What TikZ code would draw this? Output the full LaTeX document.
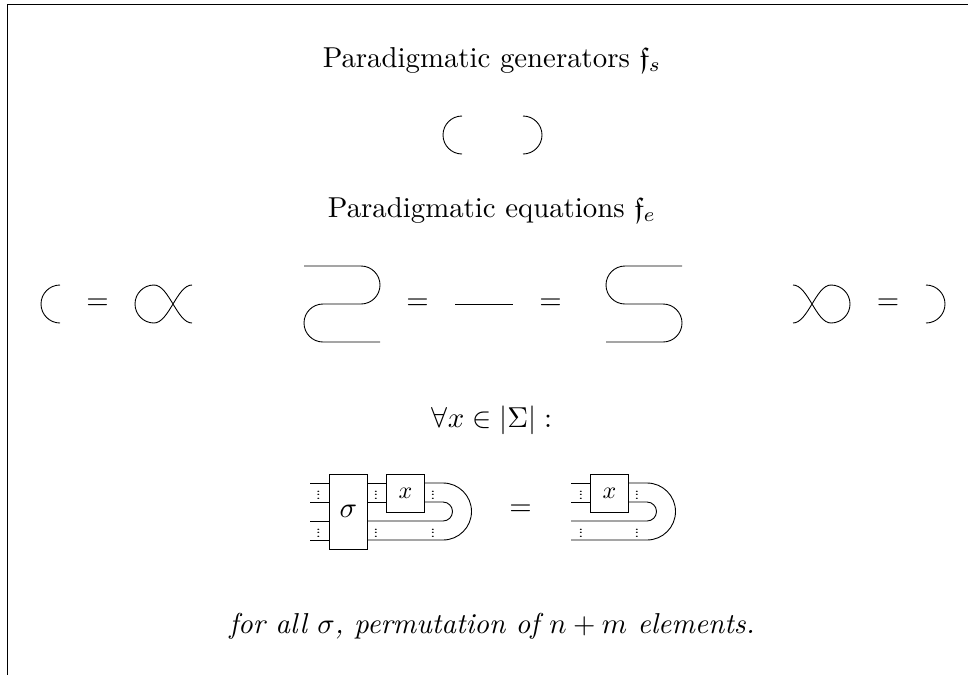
\documentclass[tikz,border=0pt]{standalone}
\usepackage{amsfonts}
\usepackage{graphicx}
\newcommand{\tripled}[1]{\scalebox{2.88}{#1}}
\newcommand{\boxletter}[1]{\scalebox{2.4}{#1}}
\newcommand{\smalldots}{\scalebox{1.3}[0.85]{\bfseries$\vdots$}}
\tikzset{
  wire/.style={line width=0.9pt,line cap=butt},
  labelbox/.style={draw,line width=0.9pt,inner sep=0pt,anchor=north west,minimum width=38pt},
  frameline/.style={line width=1pt},
  dotmark/.style={inner sep=0pt},
  bigtext/.style={inner sep=0pt,anchor=base},
  mathsym/.style={inner sep=0pt}
}
\begin{document}
\begin{tikzpicture}[x=1pt,y=-1pt]
\useasboundingbox (0,0) rectangle (968,675);
\coordinate (ftl) at (7,4.5); \coordinate (ftr) at (968,4.5); \coordinate (fbl) at (7,675);
\draw[frameline] (ftr) -- (ftl) -- (fbl);
\node[bigtext] (t1) at (492,67) {\tripled{Paradigmatic generators $\mathfrak{f}_s$}};
\node[bigtext] (t2) at (492,217) {\tripled{Paradigmatic equations $\mathfrak{f}_e$}};
\node[bigtext] (t3) at (492,427) {\tripled{$\forall x\in|\Sigma|:$}};
\node[bigtext] (t4) at (492,633) {\tripled{\itshape for all $\sigma$, permutation of $n+m$ elements.}};
% generators
\coordinate (g1a) at (462,116); \coordinate (g2a) at (523,116);
\draw[wire] (g1a) arc[start angle=-90,end angle=-270,radius=19];
\draw[wire] (g2a) arc[start angle=-90,end angle=90,radius=19];
% left equation
\coordinate (l1) at (60,285);
\draw[wire] (l1) arc[start angle=-90,end angle=-270,radius=19];
\node[mathsym] (e1) at (97.5,304) {\tripled{$=$}};
\coordinate (c1) at (192,285); \coordinate (c2) at (192,323);
\coordinate (c3) at (154,285); \coordinate (c4) at (154,323);
\draw[wire] (c1) .. controls (177,285) and (169,323) .. (c4) .. controls (143.5,323) and (135,314.5) .. (135,304) .. controls (135,293.5) and (143.5,285) .. (c3) .. controls (169,285) and (177,323) .. (c2);
% left snake
\coordinate (s1) at (304,266); \coordinate (s2) at (380,342);
\draw[wire] (s1) -- (361,266) arc[start angle=-90,end angle=90,radius=19] -- (323,304) arc[start angle=-90,end angle=-270,radius=19] -- (s2);
\node[mathsym] (e2) at (417.5,304) {\tripled{$=$}};
\coordinate (m1) at (455,304); \coordinate (m2) at (513,304);
\draw[wire] (m1) -- (m2);
\node[mathsym] (e3) at (550.5,304) {\tripled{$=$}};
% right snake
\coordinate (r1) at (682,266); \coordinate (r2) at (606,342);
\draw[wire] (r1) -- (625,266) arc[start angle=-90,end angle=-270,radius=19] -- (663,304) arc[start angle=-90,end angle=90,radius=19] -- (r2);
% right equation
\coordinate (d1) at (793,285); \coordinate (d2) at (793,323);
\coordinate (d3) at (831,285); \coordinate (d4) at (831,323);
\draw[wire] (d1) .. controls (808,285) and (816,323) .. (d4) .. controls (841.5,323) and (850,314.5) .. (850,304) .. controls (850,293.5) and (841.5,285) .. (d3) .. controls (816,285) and (808,323) .. (d2);
\node[mathsym] (e4) at (888,304) {\tripled{$=$}};
\coordinate (q1) at (926,285);
\draw[wire] (q1) arc[start angle=-90,end angle=90,radius=19];
% first diagram
\node[labelbox,minimum height=75.5pt] (sig) at (329,473.5) {\tripled{$\sigma$}};
\node[labelbox,minimum height=38pt] (xa) at (386,473.5) {\boxletter{$x$}};
\coordinate (a1) at (310,483); \coordinate (a2) at (310,502); \coordinate (a3) at (310,521); \coordinate (a4) at (310,540);
\draw[wire] (a1) -- (a1 -| sig.west);
\draw[wire] (a2) -- (a2 -| sig.west);
\draw[wire] (a3) -- (a3 -| sig.west);
\draw[wire] (a4) -- (a4 -| sig.west);
\draw[wire] (a1 -| sig.east) -- (a1 -| xa.west);
\draw[wire] (a2 -| sig.east) -- (a2 -| xa.west);
\draw[wire] (a1 -| xa.east) -- (443,483) arc[start angle=-90,end angle=90,radius=28.5] -- (a4 -| sig.east);
\draw[wire] (a2 -| xa.east) -- (443,502) arc[start angle=-90,end angle=90,radius=9.5] -- (a3 -| sig.east);
\node[dotmark] (da1) at (318.5,492.5) {\smalldots};
\node[dotmark] (da2) at (318.5,530.5) {\smalldots};
\node[dotmark] (da3) at (376,492.5) {\smalldots};
\node[dotmark] (da4) at (376,530.5) {\smalldots};
\node[dotmark] (da5) at (433,492.5) {\smalldots};
\node[dotmark] (da6) at (433,530.5) {\smalldots};
\node[mathsym] (e5) at (520.5,510.5) {\tripled{$=$}};
% second diagram
\node[labelbox,minimum height=38pt] (xb) at (590,473.5) {\boxletter{$x$}};
\coordinate (b1) at (571,483); \coordinate (b2) at (571,502); \coordinate (b3) at (571,521); \coordinate (b4) at (571,540);
\draw[wire] (b1) -- (b1 -| xb.west);
\draw[wire] (b2) -- (b2 -| xb.west);
\draw[wire] (b1 -| xb.east) -- (647,483) arc[start angle=-90,end angle=90,radius=28.5] -- (b4);
\draw[wire] (b2 -| xb.east) -- (647,502) arc[start angle=-90,end angle=90,radius=9.5] -- (b3);
\node[dotmark] (db1) at (581,492.5) {\smalldots};
\node[dotmark] (db2) at (581,530.5) {\smalldots};
\node[dotmark] (db3) at (637,492.5) {\smalldots};
\node[dotmark] (db4) at (637,530.5) {\smalldots};
\end{tikzpicture}
\end{document}
